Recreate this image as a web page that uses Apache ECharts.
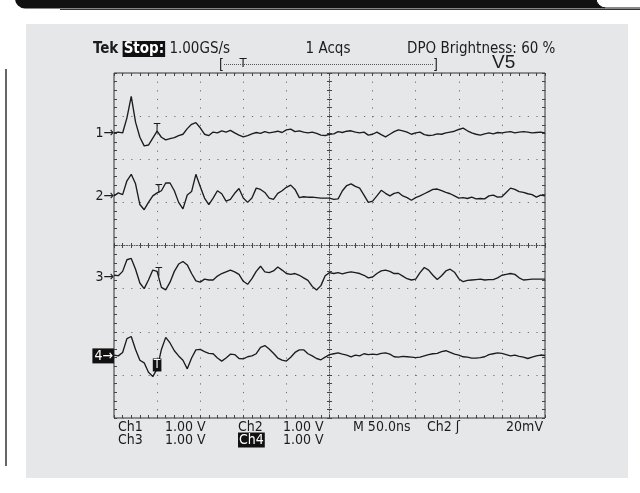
<!DOCTYPE html>
<html><head><meta charset="utf-8">
<script src="https://cdn.jsdelivr.net/npm/echarts@6/dist/echarts.min.js"></script>
<style>html,body{margin:0;padding:0;background:#fff}#c{width:640px;height:493px}</style>
</head><body><div id="c"></div>
<script>
// ---- data (volts, 1 V/div, sampled every 5 ns, t = 0 .. 500 ns) ----
const sampleStepNs = 5;
const channelNames = ['1', '2', '3', '4'];
const channelOffsets = [2.61, 1.15, -0.75, -2.56]; // ground marker positions (div)
const ch1 = [0, 0.02, 0, 0.35, 0.85, 0.25, -0.1, -0.3, -0.28, -0.12,
 0.04, -0.1, -0.16, -0.13, -0.11, -0.06, -0.03, 0.1, 0.2, 0.24,
 0.12, -0.03, -0.06, 0.02, 0, 0.05, 0.02, 0.06, 0, -0.05,
 -0.09, -0.06, -0.02, 0.01, -0.01, 0.03, 0, 0.02, 0.04, 0.01,
 0.07, 0.09, 0.03, 0.05, 0.02, 0, 0.02, -0.01, -0.05, -0.06,
 -0.03, -0.02, 0.03, 0.01, 0.04, 0.05, 0.02, 0, 0.02, -0.05,
 -0.03, 0.02, -0.04, -0.09, -0.03, 0.03, 0.07, 0.05, 0.02, -0.03,
 0, 0.02, -0.04, -0.06, -0.05, -0.02, -0.03, 0, 0.02, 0.04,
 0.08, 0.11, 0.05, 0, -0.03, -0.05, -0.02, 0, -0.02, 0.01,
 0, 0.02, 0.03, 0, 0.02, 0.03, 0.02, 0, 0.01, 0.02, 0];
const ch2 = [0, 0.07, 0.03, 0.35, 0.5, 0.28, -0.2, -0.32, -0.15, 0,
 0.07, 0.12, 0.3, 0.3, 0.12, -0.15, -0.3, 0.02, 0.1, 0.5,
 0.22, -0.05, -0.2, -0.05, 0.12, 0.05, -0.12, -0.08, 0.06, 0.17,
 -0.05, -0.15, -0.05, 0.18, 0.15, 0.08, -0.05, -0.08, 0.06, 0.12,
 0.2, 0.25, 0.15, -0.04, -0.02, -0.03, -0.03, -0.04, -0.05, -0.05,
 -0.05, -0.08, -0.07, 0.12, 0.24, 0.28, 0.22, 0.18, 0.02, -0.15,
 -0.12, 0, 0.13, 0.06, 0, 0.06, 0.08, 0, -0.04, -0.1,
 -0.04, 0, 0.05, 0.1, 0.15, 0.16, 0.12, 0.08, 0.05, 0,
 -0.05, -0.04, -0.06, -0.03, -0.07, -0.06, -0.07, 0, 0.02, -0.03,
 -0.02, 0.08, 0.18, 0.15, 0.1, 0.08, 0.05, 0.03, -0.03, 0.02, 0];
const ch3 = [0.06, 0.05, 0.15, 0.42, 0.45, 0.2, -0.12, -0.25, -0.05, 0.18,
 0.15, -0.22, -0.28, -0.1, 0.15, 0.32, 0.38, 0.3, 0.1, -0.07,
 -0.1, -0.03, -0.05, -0.05, 0.04, 0.1, 0.14, 0.18, 0.14, 0.08,
 -0.08, -0.15, -0.02, 0.15, 0.27, 0.14, 0.12, 0.16, 0.25, 0.18,
 0.1, 0.08, 0.1, 0.06, 0, -0.06, -0.2, -0.28, -0.18, 0.05,
 0.12, 0.1, 0.12, 0.09, 0.12, 0.14, 0.12, 0.1, 0.06, 0,
 0.02, 0.1, 0.16, 0.18, 0.15, 0.1, 0.1, 0.04, -0.02, -0.05,
 -0.03, 0.12, 0.24, 0.18, 0.06, -0.04, 0.05, 0.16, 0.2, 0.13,
 -0.02, -0.09, -0.06, -0.05, -0.04, -0.03, -0.05, -0.04, -0.04, 0,
 0.06, 0.08, 0.1, 0.08, 0, -0.05, -0.04, -0.03, -0.03, -0.03, -0.03];
const ch4 = [0.02, 0, 0.08, 0.4, 0.45, 0.15, -0.1, -0.16, -0.38, -0.48,
 -0.3, 0.15, 0.43, 0.3, 0.12, 0, -0.1, -0.3, -0.05, 0.14,
 0.15, 0.1, 0.06, 0.05, -0.05, -0.12, -0.05, 0.04, 0.03, -0.06,
 -0.07, -0.02, 0, 0.05, 0.2, 0.24, 0.16, 0.06, -0.05, -0.1,
 -0.12, -0.03, 0.08, 0.14, 0.14, 0.05, 0, -0.06, -0.09, -0.03,
 0.03, 0.05, 0.07, 0.04, 0.02, -0.02, 0.02, 0, 0.05, 0.03,
 0.04, 0.03, 0.06, 0.07, 0.04, -0.02, -0.03, -0.01, -0.02, -0.03,
 -0.04, -0.03, 0, 0.03, 0.05, 0.06, 0.1, 0.12, 0.08, 0.04,
 0.02, -0.02, -0.03, -0.05, -0.05, -0.04, -0.02, 0.03, 0.05, 0.07,
 0.06, 0.03, 0, 0.02, -0.01, -0.03, -0.06, -0.03, 0, 0.02, 0.01];
const channelData = [ch1, ch2, ch3, ch4];
const triggerMarkTime = [50, 52, 52, 50];
const triggerMarkLevel = [0.1, 0.15, 0.12, -0.21];
const headerTexts = ['Stop:', '1.00GS/s', '1 Acqs', 'DPO Brightness: 60 %', 'V5'];
const footerRow1 = ['Ch1', '1.00 V', 'Ch2', '1.00 V', 'M 50.0ns', 'Ch2 ʃ', '20mV'];
const footerRow2 = ['Ch3', '1.00 V', 'Ch4', '1.00 V'];

// ---- style ----
const FONT = "'DejaVu Sans Condensed','Liberation Sans Narrow','DejaVu Sans',sans-serif";
const INK = '#1c1c1c';
const rect = {left: 114, top: 73, width: 431, height: 345};
const dotStyle = {color: '#6e6e6e', width: 1, type: [1.2, 7.42]};

const chart = echarts.init(document.getElementById('c'), null, {renderer: 'canvas'});

function borderAxisX(pos, grid) {
  return {type: 'value', gridIndex: grid, position: pos, min: 0, max: 500, interval: 50,
    axisLine: {show: false, onZero: false}, axisLabel: {show: false},
    axisTick: {show: true, inside: true, length: 3, lineStyle: {color: '#444'}},
    minorTick: {show: true, splitNumber: 5, length: 3, lineStyle: {color: '#444'}},
    splitLine: {show: pos === 'bottom', lineStyle: dotStyle}};
}
function borderAxisY(pos, grid) {
  return {type: 'value', gridIndex: grid, position: pos, min: -4, max: 4, interval: 1,
    axisLine: {show: false, onZero: false}, axisLabel: {show: false},
    axisTick: {show: true, inside: true, length: 3, lineStyle: {color: '#444'}},
    minorTick: {show: true, splitNumber: 5, length: 3, lineStyle: {color: '#444'}},
    splitLine: {show: pos === 'left', lineStyle: dotStyle}};
}
function centerAxisX(grid, inside, line) {
  return {type: 'value', gridIndex: grid, position: 'bottom', min: -5, max: 5, interval: 1,
    axisLine: {show: line, onZero: true, lineStyle: {color: '#555', width: 1, type: [1, 1.5]}},
    axisLabel: {show: false},
    axisTick: {show: true, inside: inside, length: 2.5, lineStyle: {color: '#444'}},
    minorTick: {show: true, splitNumber: 5, length: 2.5, lineStyle: {color: '#444'}},
    splitLine: {show: false}};
}
function centerAxisY(grid, inside, line) {
  return {type: 'value', gridIndex: grid, position: 'left', min: -4, max: 4, interval: 1,
    axisLine: {show: line, onZero: true, lineStyle: {color: '#555', width: 1, type: [1, 1.5]}},
    axisLabel: {show: false},
    axisTick: {show: true, inside: inside, length: 2.5, lineStyle: {color: '#444'}},
    minorTick: {show: true, splitNumber: 5, length: 2.5, lineStyle: {color: '#444'}},
    splitLine: {show: false}};
}

const series = channelData.map((vals, ci) => ({
  type: 'line', name: 'Ch' + channelNames[ci], xAxisIndex: 0, yAxisIndex: 0,
  data: vals.map((v, i) => [i * sampleStepNs, v + channelOffsets[ci]]),
  showSymbol: false, clip: false, animation: false, silent: true,
  lineStyle: {color: INK, width: 1.35},
  markPoint: {
    symbol: 'circle', symbolSize: 0.1, silent: true, animation: false,
    itemStyle: {color: 'rgba(0,0,0,0)'},
    data: [
      {coord: [0, channelOffsets[ci]],
       label: {show: true, position: 'left', distance: 0, formatter: channelNames[ci] + '→',
         fontFamily: FONT, fontSize: 14, color: ci === 3 ? '#fff' : INK,
         backgroundColor: ci === 3 ? '#111' : 'transparent', padding: ci === 3 ? [1, 1, 0, 2] : 0}},
      {coord: [triggerMarkTime[ci], channelOffsets[ci] + triggerMarkLevel[ci]],
       label: {show: true, position: 'inside', formatter: 'T', fontFamily: FONT, fontSize: 12,
         color: ci === 3 ? '#fff' : INK, backgroundColor: ci === 3 ? '#111' : 'transparent',
         padding: ci === 3 ? [1, 1, 0, 1] : 0}}
    ]
  }
}));

const textStyleBase = {fontFamily: FONT, fontSize: 15, fill: INK};
function txt(x, y, s, extra) {
  return {type: 'text', x: x, y: y, silent: true,
    style: Object.assign({text: s, textVerticalAlign: 'middle'}, textStyleBase, extra || {})};
}
const FOOT = {fontSize: 14};

const graphic = [
  // page decoration
  {type: 'rect', shape: {x: 26, y: 24, width: 602, height: 454}, style: {fill: '#e6e7e8'}, z: -10, silent: true},
  {type: 'rect', shape: {x: 15, y: -2, width: 590, height: 10.5, r: [0, 0, 0, 10]}, style: {fill: '#111'}, z: -5, silent: true},
  {type: 'rect', shape: {x: 596, y: -3, width: 60, height: 11, r: [0, 0, 0, 10]}, style: {fill: '#fff', stroke: '#111', lineWidth: 1}, z: -4, silent: true},
  {type: 'line', shape: {x1: 60, y1: 9.5, x2: 640, y2: 9.5}, style: {stroke: '#333', lineWidth: 1}, z: -5, silent: true},
  {type: 'line', shape: {x1: 6, y1: 69, x2: 6, y2: 466}, style: {stroke: '#333', lineWidth: 1.5}, silent: true},
  // header
  {type: 'text', x: 93, y: 49, silent: true, style: {
    text: '{b|Tek} {inv|' + headerTexts[0] + '} ' + headerTexts[1], textVerticalAlign: 'middle',
    fontFamily: FONT, fontSize: 15, fill: INK,
    rich: {b: {fontFamily: FONT, fontSize: 15, fontWeight: 'bold', fill: INK},
           inv: {fontFamily: FONT, fontSize: 15, fontWeight: 'bold', fill: '#fff', backgroundColor: '#111', padding: [1, 1, 0, 1]}}}},
  txt(328, 49, headerTexts[2], {textAlign: 'center'}),
  txt(407, 49, headerTexts[3]),
  txt(219, 65, '[', {fontSize: 14}),
  txt(243, 64, 'T', {textAlign: 'center', fontSize: 13}),
  txt(438, 65, ']', {textAlign: 'right', fontSize: 14}),
  {type: 'line', shape: {x1: 224, y1: 64.5, x2: 434, y2: 64.5}, style: {stroke: '#555', lineWidth: 1, lineDash: [1, 1]}, silent: true},
  txt(492, 63, headerTexts[4], {fontFamily: "'Liberation Sans','DejaVu Sans',sans-serif", fontSize: 19}),
  // footer row 1
  txt(118, 427, footerRow1[0], FOOT), txt(165, 427, footerRow1[1], FOOT),
  txt(238, 427, footerRow1[2], FOOT), txt(283, 427, footerRow1[3], FOOT),
  txt(353, 427, footerRow1[4], FOOT), txt(427, 427, footerRow1[5], FOOT),
  txt(543, 427, footerRow1[6], {fontSize: 14, textAlign: 'right'}),
  // footer row 2
  txt(118, 440, footerRow2[0], FOOT), txt(165, 440, footerRow2[1], FOOT),
  {type: 'text', x: 238, y: 440, silent: true, style: {text: footerRow2[2], textVerticalAlign: 'middle',
    fontFamily: FONT, fontSize: 14, fill: '#fff', backgroundColor: '#111', padding: [1, 1, 0, 1]}},
  txt(283, 440, footerRow2[3], FOOT)
];

chart.setOption({
  animation: false,
  backgroundColor: '#fff',
  grid: [
    Object.assign({show: true, borderColor: '#333', borderWidth: 1, backgroundColor: 'transparent'}, rect),
    Object.assign({show: false}, rect),
    Object.assign({show: false}, rect)
  ],
  xAxis: [borderAxisX('bottom', 0), borderAxisX('top', 0), centerAxisX(1, false, true), centerAxisX(2, true, false)],
  yAxis: [borderAxisY('left', 0), borderAxisY('right', 0), centerAxisY(1, false, true), centerAxisY(2, true, false)],
  series: series,
  graphic: graphic
});
</script>
</body></html>
